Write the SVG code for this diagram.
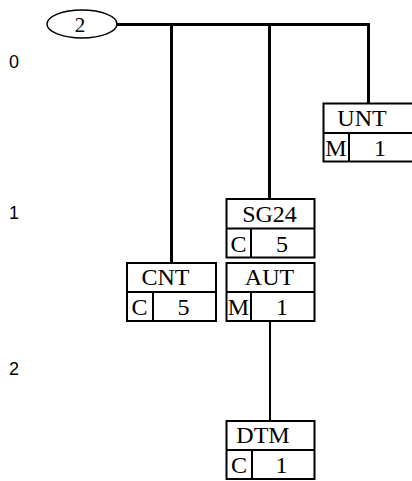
<svg xmlns="http://www.w3.org/2000/svg" width="412" height="481" viewBox="0 0 412 481">
<style>
.bg{fill:#fff}
.box{fill:#fff;stroke:#000;stroke-width:2}
.div{stroke:#000;stroke-width:2}
.conn{fill:none;stroke:#000;stroke-width:3;stroke-linecap:square}
.thin{fill:none;stroke:#000;stroke-width:2}
.t{font-family:"Liberation Serif","Times New Roman",serif;font-size:24px;fill:#000;text-anchor:middle}
.lv{font-family:"Liberation Sans",Arial,sans-serif;font-size:18px;fill:#000;text-anchor:middle}
</style>
<rect class="bg" x="0" y="0" width="412" height="481"/>
<g id="levels">
<text class="lv" x="14" y="68">0</text>
<text class="lv" x="14" y="219">1</text>
<text class="lv" x="14" y="375">2</text>
</g>
<g id="connectors">
<polyline class="conn" points="117,24.5 368.5,24.5 368.5,103"/>
<line class="conn" x1="171.5" y1="24.5" x2="171.5" y2="262"/>
<line class="conn" x1="269.5" y1="24.5" x2="269.5" y2="198"/>
<line class="thin" x1="270" y1="321" x2="270" y2="421"/>
</g>
<g id="root">
<ellipse cx="82" cy="24" rx="35" ry="14" fill="#fff" stroke="#000" stroke-width="1.5"/>
<text class="t" x="80" y="32" style="font-size:21px">2</text>
</g>
<g id="UNT">
<rect class="box" x="323.5" y="103.5" width="90" height="58"/>
<line class="div" x1="323.5" y1="133" x2="413" y2="133"/>
<line class="div" x1="349" y1="133" x2="349" y2="161.5"/>
<text class="t" x="362" y="126">UNT</text>
<text class="t" x="336" y="156">M</text>
<text class="t" x="380" y="156">1</text>
</g>
<g id="SG24">
<rect class="box" x="226.5" y="199" width="88" height="58.5"/>
<line class="div" x1="226.5" y1="228.5" x2="314.5" y2="228.5"/>
<line class="div" x1="251" y1="228.5" x2="251" y2="257.5"/>
<text class="t" x="269.5" y="222">SG24</text>
<text class="t" x="238.5" y="252">C</text>
<text class="t" x="282" y="252">5</text>
</g>
<g id="CNT">
<rect class="box" x="127" y="263" width="89" height="58"/>
<line class="div" x1="127" y1="292" x2="216" y2="292"/>
<line class="div" x1="153" y1="292" x2="153" y2="321"/>
<text class="t" x="165.5" y="285">CNT</text>
<text class="t" x="139.5" y="315">C</text>
<text class="t" x="183.5" y="315">5</text>
</g>
<g id="AUT">
<rect class="box" x="226.5" y="263" width="88" height="58"/>
<line class="div" x1="226.5" y1="292" x2="314.5" y2="292"/>
<line class="div" x1="251" y1="292" x2="251" y2="321"/>
<text class="t" x="269.5" y="285">AUT</text>
<text class="t" x="238.5" y="315">M</text>
<text class="t" x="282" y="315">1</text>
</g>
<g id="DTM">
<rect class="box" x="226.5" y="421" width="88" height="58"/>
<line class="div" x1="226.5" y1="450" x2="314.5" y2="450"/>
<line class="div" x1="252" y1="450" x2="252" y2="479"/>
<text class="t" x="263" y="443">DTM</text>
<text class="t" x="239" y="473">C</text>
<text class="t" x="281.5" y="473">1</text>
</g>
</svg>
